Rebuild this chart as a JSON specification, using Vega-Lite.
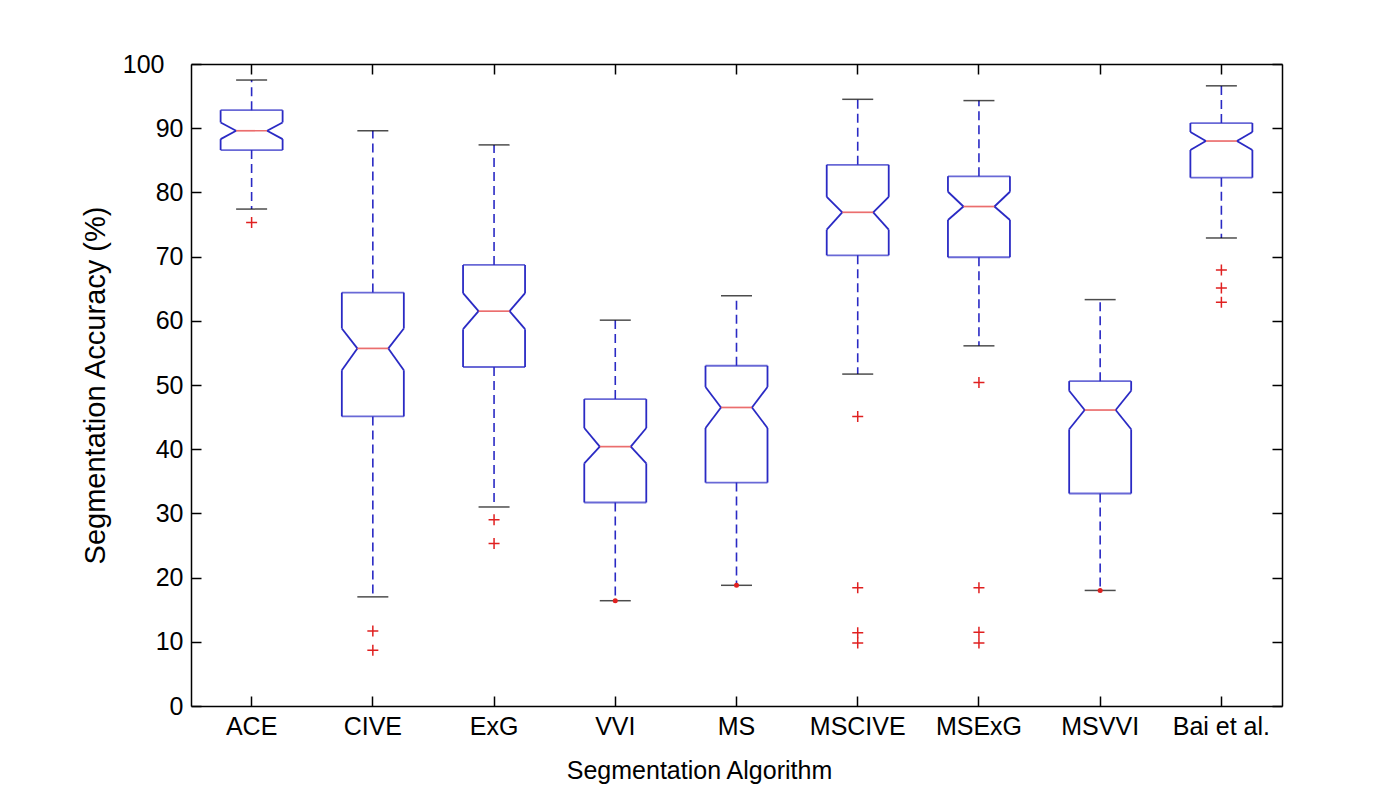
{
  "$schema": "https://vega.github.io/schema/vega-lite/v6.json",
  "width": 1091,
  "height": 642,
  "autosize": {"type": "none"},
  "padding": {"left": 191, "top": 64, "right": 118, "bottom": 82},
  "background": "white",
  "config": {
    "font": "Liberation Sans",
    "view": {"stroke": null},
    "axis": {"grid": false, "domainColor": "black", "domainWidth": 1.5, "tickColor": "black", "tickWidth": 1.5, "labelColor": "black", "titleColor": "black", "labelFont": "Liberation Sans", "titleFont": "Liberation Sans", "titleFontWeight": "normal"}
  },
  "datasets": {
    "stats": [
      {"alg": "ACE", "lo": 77.4, "q1": 86.6, "nlo": 88.3, "med": 89.6, "nhi": 90.9, "q3": 92.8, "hi": 97.5},
      {"alg": "CIVE", "lo": 17.0, "q1": 45.1, "nlo": 52.3, "med": 55.7, "nhi": 58.8, "q3": 64.4, "hi": 89.6},
      {"alg": "ExG", "lo": 31.0, "q1": 52.8, "nlo": 58.7, "med": 61.5, "nhi": 64.3, "q3": 68.7, "hi": 87.4},
      {"alg": "VVI", "lo": 16.4, "q1": 31.7, "nlo": 37.8, "med": 40.4, "nhi": 43.3, "q3": 47.8, "hi": 60.1},
      {"alg": "MS", "lo": 18.8, "q1": 34.8, "nlo": 43.3, "med": 46.5, "nhi": 49.7, "q3": 53.0, "hi": 63.9},
      {"alg": "MSCIVE", "lo": 51.7, "q1": 70.2, "nlo": 74.2, "med": 76.9, "nhi": 79.3, "q3": 84.3, "hi": 94.5},
      {"alg": "MSExG", "lo": 56.1, "q1": 69.9, "nlo": 75.7, "med": 77.8, "nhi": 80.1, "q3": 82.5, "hi": 94.3},
      {"alg": "MSVVI", "lo": 18.0, "q1": 33.1, "nlo": 43.1, "med": 46.1, "nhi": 49.1, "q3": 50.6, "hi": 63.3},
      {"alg": "Bai et al.", "lo": 72.9, "q1": 82.3, "nlo": 86.6, "med": 88.0, "nhi": 89.4, "q3": 90.8, "hi": 96.6}
    ],
    "outliers": [
      {"alg": "ACE", "value": 75.3},
      {"alg": "CIVE", "value": 11.7},
      {"alg": "CIVE", "value": 8.7},
      {"alg": "ExG", "value": 29.0},
      {"alg": "ExG", "value": 25.3},
      {"alg": "MSCIVE", "value": 45.1},
      {"alg": "MSCIVE", "value": 18.4},
      {"alg": "MSCIVE", "value": 11.4},
      {"alg": "MSCIVE", "value": 9.8},
      {"alg": "MSExG", "value": 50.4},
      {"alg": "MSExG", "value": 18.4},
      {"alg": "MSExG", "value": 11.5},
      {"alg": "MSExG", "value": 9.8},
      {"alg": "Bai et al.", "value": 67.9},
      {"alg": "Bai et al.", "value": 65.1},
      {"alg": "Bai et al.", "value": 62.9}
    ],
    "dots": [
      {"alg": "VVI", "value": 16.4},
      {"alg": "MS", "value": 18.8},
      {"alg": "MSVVI", "value": 18.0}
    ]
  },
  "data": {"name": "stats"},
  "encoding": {
    "x": {"field": "alg", "type": "nominal", "sort": ["ACE", "CIVE", "ExG", "VVI", "MS", "MSCIVE", "MSExG", "MSVVI", "Bai et al."], "scale": {"paddingInner": 0, "paddingOuter": 0}, "axis": null}
  },
  "layer": [
    {
      "mark": {"type": "rule", "color": "#2a2ac4", "strokeWidth": 1.6, "strokeDash": [9, 5]},
      "encoding": {"y": {"field": "q3", "type": "quantitative", "scale": {"domain": [0, 100], "nice": false}, "axis": null}, "y2": {"field": "hi"}}
    },
    {
      "mark": {"type": "rule", "color": "#2a2ac4", "strokeWidth": 1.6, "strokeDash": [9, 5]},
      "encoding": {"y": {"field": "q1", "type": "quantitative", "scale": {"domain": [0, 100], "nice": false}, "axis": null}, "y2": {"field": "lo"}}
    },
    {
      "mark": {"type": "tick", "color": "black", "size": 31, "thickness": 1.5},
      "encoding": {"y": {"field": "hi", "type": "quantitative", "scale": {"domain": [0, 100], "nice": false}, "axis": null}}
    },
    {
      "mark": {"type": "tick", "color": "black", "size": 31, "thickness": 1.5},
      "encoding": {"y": {"field": "lo", "type": "quantitative", "scale": {"domain": [0, 100], "nice": false}, "axis": null}}
    },
    {
      "mark": {"type": "tick", "color": "#2a2ac4", "size": 62, "thickness": 1.8},
      "encoding": {
        "x": {"field": "alg", "type": "nominal", "sort": ["ACE", "CIVE", "ExG", "VVI", "MS", "MSCIVE", "MSExG", "MSVVI", "Bai et al."], "scale": {"paddingInner": 0, "paddingOuter": 0},
          "axis": {"orient": "bottom", "title": "Segmentation Algorithm", "titleFontSize": 25, "titleX": 508, "titleY": 52, "titleAlign": "center", "titleBaseline": "top", "labelFontSize": 25, "labelPadding": 18, "tickSize": -10, "labelAngle": 0}},
        "y": {"field": "q3", "type": "quantitative", "scale": {"domain": [0, 100], "nice": false},
          "axis": {"orient": "left", "title": "Segmentation Accuracy (%)", "titleFontSize": 29, "titleAngle": -90, "titleX": -96, "titleY": 321, "titleAlign": "center", "titleBaseline": "middle", "labelFontSize": 25, "labelPadding": {"condition": {"test": "datum.value == 100", "value": 37}, "value": 18}, "tickSize": -10, "values": [0, 10, 20, 30, 40, 50, 60, 70, 80, 90, 100]}}
      }
    },
    {
      "mark": {"type": "tick", "color": "#2a2ac4", "size": 62, "thickness": 1.8},
      "encoding": {
        "x": {"field": "alg", "type": "nominal", "sort": ["ACE", "CIVE", "ExG", "VVI", "MS", "MSCIVE", "MSExG", "MSVVI", "Bai et al."], "scale": {"paddingInner": 0, "paddingOuter": 0},
          "axis": {"orient": "top", "title": null, "labels": false, "tickSize": -10}},
        "y": {"field": "q1", "type": "quantitative", "scale": {"domain": [0, 100], "nice": false},
          "axis": {"orient": "right", "title": null, "labels": false, "tickSize": -10, "values": [0, 10, 20, 30, 40, 50, 60, 70, 80, 90, 100]}}
      }
    },
    {
      "mark": {"type": "rule", "color": "#2a2ac4", "strokeWidth": 1.8, "xOffset": -31},
      "encoding": {"y": {"field": "q3", "type": "quantitative", "scale": {"domain": [0, 100], "nice": false}, "axis": null}, "y2": {"field": "nhi"}}
    },
    {
      "mark": {"type": "rule", "color": "#2a2ac4", "strokeWidth": 1.8, "xOffset": -31},
      "encoding": {"y": {"field": "nlo", "type": "quantitative", "scale": {"domain": [0, 100], "nice": false}, "axis": null}, "y2": {"field": "q1"}}
    },
    {
      "mark": {"type": "rule", "color": "#2a2ac4", "strokeWidth": 1.8, "xOffset": 31},
      "encoding": {"y": {"field": "q3", "type": "quantitative", "scale": {"domain": [0, 100], "nice": false}, "axis": null}, "y2": {"field": "nhi"}}
    },
    {
      "mark": {"type": "rule", "color": "#2a2ac4", "strokeWidth": 1.8, "xOffset": 31},
      "encoding": {"y": {"field": "nlo", "type": "quantitative", "scale": {"domain": [0, 100], "nice": false}, "axis": null}, "y2": {"field": "q1"}}
    },
    {
      "mark": {"type": "rule", "color": "#2a2ac4", "strokeWidth": 1.8, "xOffset": -31, "x2Offset": -15.5},
      "encoding": {"x2": {"field": "alg"}, "y": {"field": "nhi", "type": "quantitative", "scale": {"domain": [0, 100], "nice": false}, "axis": null}, "y2": {"field": "med"}}
    },
    {
      "mark": {"type": "rule", "color": "#2a2ac4", "strokeWidth": 1.8, "xOffset": -31, "x2Offset": -15.5},
      "encoding": {"x2": {"field": "alg"}, "y": {"field": "nlo", "type": "quantitative", "scale": {"domain": [0, 100], "nice": false}, "axis": null}, "y2": {"field": "med"}}
    },
    {
      "mark": {"type": "rule", "color": "#2a2ac4", "strokeWidth": 1.8, "xOffset": 31, "x2Offset": 15.5},
      "encoding": {"x2": {"field": "alg"}, "y": {"field": "nhi", "type": "quantitative", "scale": {"domain": [0, 100], "nice": false}, "axis": null}, "y2": {"field": "med"}}
    },
    {
      "mark": {"type": "rule", "color": "#2a2ac4", "strokeWidth": 1.8, "xOffset": 31, "x2Offset": 15.5},
      "encoding": {"x2": {"field": "alg"}, "y": {"field": "nlo", "type": "quantitative", "scale": {"domain": [0, 100], "nice": false}, "axis": null}, "y2": {"field": "med"}}
    },
    {
      "mark": {"type": "tick", "color": "#e23030", "size": 31, "thickness": 1.7},
      "encoding": {"y": {"field": "med", "type": "quantitative", "scale": {"domain": [0, 100], "nice": false}, "axis": null}}
    },
    {
      "data": {"name": "outliers"},
      "mark": {"type": "point", "shape": "M-1,0L1,0M0,-1L0,1", "size": 121, "filled": false, "stroke": "#e02020", "strokeWidth": 1.5, "opacity": 1},
      "encoding": {"y": {"field": "value", "type": "quantitative", "scale": {"domain": [0, 100], "nice": false}, "axis": null}}
    },
    {
      "data": {"name": "dots"},
      "mark": {"type": "point", "shape": "circle", "size": 25, "filled": true, "color": "#e02020", "opacity": 1},
      "encoding": {"y": {"field": "value", "type": "quantitative", "scale": {"domain": [0, 100], "nice": false}, "axis": null}}
    }
  ],
  "resolve": {"axis": {"x": "independent", "y": "independent"}}
}
